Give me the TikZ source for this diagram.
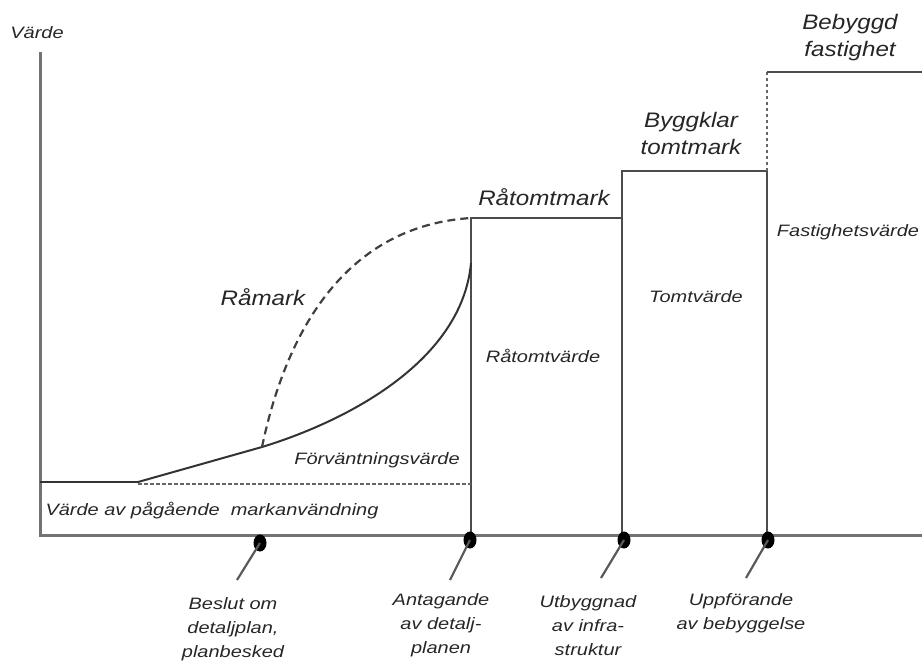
\documentclass[tikz,border=0pt]{standalone}
\usepackage{fontspec}
\usetikzlibrary{shapes.geometric}
\setmainfont{Liberation Sans}
\begin{document}
\begin{tikzpicture}[x=1pt,y=-1pt,
  small/.style={font=\fontsize{16.5}{24}\selectfont\itshape, inner sep=0pt, xscale=1.21, text=black!85, align=center},
  big/.style={font=\fontsize{21}{27}\selectfont\itshape, inner sep=0pt, xscale=1.15, text=black!85, align=center},
  axis/.style={draw=black!55, line width=3pt},
  edge/.style={draw=black!70, line width=2.5pt},
  curve/.style={draw=black!80, line width=2pt},
  dcurve/.style={draw=black!75, line width=2.2pt, dash pattern=on 8pt off 5pt},
  dline/.style={draw=black!60, line width=1.8pt, dash pattern=on 3.5pt off 2.5pt},
  tick/.style={draw=black!65, line width=2.2pt},
  dot/.style={ellipse, fill=black, minimum width=13pt, minimum height=17pt, inner sep=0pt}
]
\useasboundingbox (0,0) rectangle (922,662);
% key coordinates
\coordinate (ytop) at (40,52);
\coordinate (o) at (40,535);
\coordinate (xend) at (922,535);
\coordinate (b0) at (40,482);
\coordinate (b1) at (138,482);
\coordinate (b1d) at (138,484);
\coordinate (b2d) at (471,484);
\coordinate (k) at (262,447);
\coordinate (cend) at (471,263);
\coordinate (p1) at (471,218);
\coordinate (p2) at (622,218);
\coordinate (p3) at (622,171);
\coordinate (p4) at (767,171);
\coordinate (p5) at (767,72);
\coordinate (p6) at (922,72);
\coordinate (a1) at (471,535);
\coordinate (a2) at (622,535);
\coordinate (a3) at (767,535);
% axes
\draw[axis] (ytop) -- (o) -- (xend);
% steps
\draw[edge] (a1) -- (p1) -- (p2) -- (a2);
\draw[edge] (p2) -- (p3) -- (p4) -- (a3);
\draw[dline] (p4) -- (p5);
\draw[edge] (p5) -- (p6);
% base value
\draw[curve] (b0) -- (b1);
\draw[dline] (b1d) -- (b2d);
% expectation curve
\draw[curve] (b1) -- (k) .. controls (350,420) and (462,360) .. (cend);
\draw[dcurve] (k) .. controls (286,332) and (345,226) .. (p1);
% dots and ticks
\node[dot] (d1) at (260,543) {};
\node[dot] (d2) at (470,540) {};
\node[dot] (d3) at (624,540) {};
\node[dot] (d4) at (768,540) {};
\coordinate (t1) at (237,580);
\coordinate (t2) at (450,580);
\coordinate (t3) at (601,578);
\coordinate (t4) at (746,578);
\draw[tick] (d1.center) -- (t1);
\draw[tick] (d2.center) -- (t2);
\draw[tick] (d3.center) -- (t3);
\draw[tick] (d4.center) -- (t4);
% labels
\node[small] (lv) at (37,33) {Värde};
\node[big] (lbeb) at (850,38) {Bebyggd\\fastighet};
\node[big] (lbyg) at (691,133) {Byggklar\\tomtmark};
\node[big] (lrtm) at (544,197) {Råtomtmark};
\node[big] (lram) at (263,297) {Råmark};
\node[small] (lrtv) at (543,356) {Råtomtvärde};
\node[small] (ltv) at (696,297) {Tomtvärde};
\node[small] (lfv) at (848,232) {Fastighetsvärde};
\node[small] (lfor) at (377,460) {Förväntningsvärde};
\node[small] (lpag) at (212,511) {Värde av pågående\ \ markanvändning};
\node[small, anchor=north] (l1) at (233,597) {Beslut om\\detaljplan,\\planbesked};
\node[small, anchor=north] (l2) at (441,593) {Antagande\\av detalj-\\planen};
\node[small, anchor=north] (l3) at (588,595) {Utbyggnad\\av infra-\\struktur};
\node[small, anchor=north] (l4) at (741,593) {Uppförande\\av bebyggelse};
\end{tikzpicture}
\end{document}
